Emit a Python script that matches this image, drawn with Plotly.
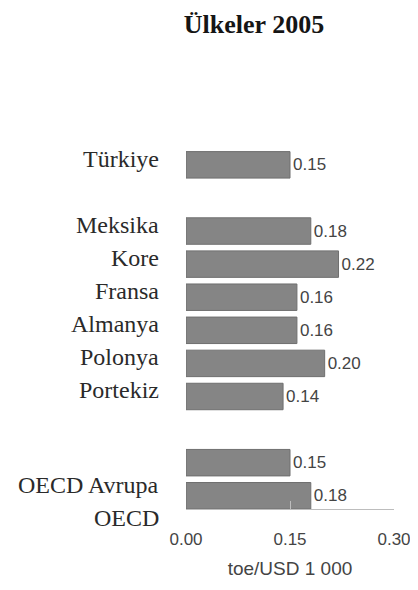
import plotly.graph_objects as go

# ---- data ----
countries = ["Türkiye", "Meksika", "Kore", "Fransa", "Almanya", "Polonya",
             "Portekiz", "OECD Avrupa", "OECD"]
values = [0.15, 0.18, 0.22, 0.16, 0.16, 0.20, 0.14, 0.15, 0.18]
value_labels = ["0.15", "0.18", "0.22", "0.16", "0.16", "0.20", "0.14", "0.15", "0.18"]
groups = [0, 1, 1, 1, 1, 1, 1, 2, 2]
tick_values = [0, 0.15, 0.30]
tick_labels = ["0.00", "0.15", "0.30"]
title_text = "Ülkeler 2005"
x_title = "toe/USD 1 000"

# slot positions: one empty slot between groups
slots = [i + g for i, g in enumerate(groups)]

# ---- style ----
# the page body adds an 8px margin, so the figure is drawn 8px smaller
OFF = 8
W, H = 418 - OFF, 590 - OFF
label_shift = {"OECD Avrupa": -22, "OECD": -22}
default_shift = 6
serif = "Liberation Serif, Times New Roman, serif"
sans = "Liberation Sans, Arial, sans-serif"
text_grey = "#444444"

fig = go.Figure()
fig.add_trace(go.Bar(
    x=values, y=slots, orientation="h", width=0.8,
    marker=dict(color="#858585", line=dict(color="#6f6f6f", width=1)),
    text=value_labels, textposition="outside", cliponaxis=False,
    textfont=dict(family=sans, size=17, color=text_grey),
    hoverinfo="skip",
))

for name, s in zip(countries, slots):
    fig.add_annotation(
        x=0, xref="paper", y=s, yref="y", text=name, showarrow=False,
        xanchor="right", yanchor="middle", xshift=-25,
        yshift=label_shift.get(name, default_shift),
        font=dict(family=serif, size=24, color="#2a2a2a"),
    )

fig.update_layout(
    width=W, height=H,
    margin=dict(l=186 - OFF, r=W - (394 - OFF), t=145 - OFF, b=H - (509 - OFF)),
    paper_bgcolor="white", plot_bgcolor="white",
    showlegend=False,
    title=dict(text=f"<b>{title_text}</b>", x=(254 - OFF) / W, xanchor="center",
               xref="container", y=1 - (24 - OFF) / H, yref="container", yanchor="middle",
               font=dict(family=serif, size=26, color="#151515")),
)

fig.update_xaxes(
    range=[0, 0.30], tickvals=tick_values, ticktext=tick_labels,
    showgrid=False, zeroline=False, showline=True, linecolor="#bdbdbd", linewidth=1,
    ticks="inside", ticklen=8, tickcolor="#bdbdbd",
    tickfont=dict(family=sans, size=17, color=text_grey),
    ticklabelstandoff=15, automargin=False,
    title=dict(text=x_title, font=dict(family=sans, size=19, color=text_grey), standoff=13),
)
fig.update_yaxes(
    range=[10.4, -0.6], showticklabels=False, showgrid=False, zeroline=False,
    showline=False, ticks="", automargin=False,
)

fig.write_html("out.html")
